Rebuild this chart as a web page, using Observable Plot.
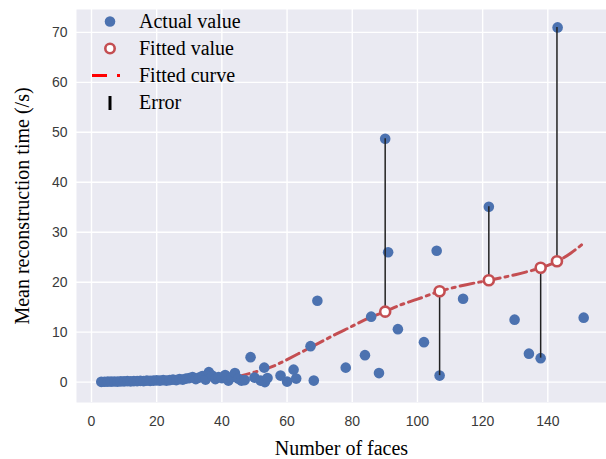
<!DOCTYPE html>
<html>
<head>
<meta charset="utf-8">
<script src="https://cdn.jsdelivr.net/npm/d3@7"></script>
<script src="https://cdn.jsdelivr.net/npm/@observablehq/plot@0.6"></script>
<style>
  html, body { margin: 0; padding: 0; background: #fff; }
  #wrap { position: relative; width: 606px; height: 459px; }
  #chart svg { display: block; }
  #chart g[aria-label="x-axis tick label"] text, #chart g[aria-label="y-axis tick label"] text { fill: #3a3a3a; }
  #chart g[aria-label="x-axis label"] text, #chart g[aria-label="y-axis label"] text {
    font-family: "Liberation Serif", "Times New Roman", serif; font-size: 20px; fill: #000;
  }
  #legend { position: absolute; left: 88px; top: 8px; font-family: "Liberation Serif", "Times New Roman", serif; font-size: 20px; color: #000; }
  .row { display: flex; align-items: center; height: 27px; }
  .row svg { width: 44px; height: 27px; flex: none; }
  .row span { margin-left: 7px; }
</style>
</head>
<body>
<div id="wrap">
  <div id="chart"></div>
  <div id="legend">
    <div class="row"><svg><circle cx="22" cy="13.5" r="5.3" fill="#4C72B0"/></svg><span>Actual value</span></div>
    <div class="row"><svg><circle cx="22" cy="13.5" r="4.7" fill="#fff" stroke="#C44E52" stroke-width="2.6"/></svg><span>Fitted value</span></div>
    <div class="row"><svg><line x1="4" x2="40" y1="13.5" y2="13.5" stroke="#ff0000" stroke-width="3" stroke-dasharray="15,10,3,10"/></svg><span>Fitted curve</span></div>
    <div class="row"><svg><line x1="22" x2="22" y1="7" y2="21" stroke="#000" stroke-width="3"/></svg><span>Error</span></div>
  </div>
</div>
<script>
// Actual values (number of faces, mean reconstruction time)
const actualX = [3,4,5,6,7,8,9,10,11,12,13,14,15,16,17,18,19,20,21,22,23,24,25,26,27,28,29,30,
  31,32,33,34,35,36,37,38,39,40,41,42,43,44,45,46,47,48.8,50,51.9,53,53.2,54,58,60,62,62.8,
  67.2,68.2,69.3,78,83.9,85.8,88.2,90.1,91,94,102,105.9,106.8,114,121.9,129.8,134.2,137.8,143,151];
const actualY = [0.05,0.08,0.1,0.1,0.12,0.1,0.15,0.15,0.2,0.15,0.2,0.2,0.25,0.2,0.3,0.25,0.3,0.35,0.3,0.4,0.3,0.4,0.5,0.4,0.6,0.5,0.7,0.8,
  1.0,0.6,0.9,1.2,0.5,2.0,1.3,0.6,1.0,0.8,1.4,0.3,1.0,1.8,0.7,0.3,0.4,5.0,0.9,0.3,2.9,0.0,0.8,1.3,0.1,2.5,0.7,
  7.2,0.3,16.3,2.9,5.4,13.1,1.8,48.7,26.0,10.6,8.0,26.3,1.3,16.7,35.1,12.5,5.7,4.8,71.0,12.9];

// Fitted values and the actual values they are compared with
const fittedX = [90.1, 106.8, 121.9, 137.8, 142.8];
const fittedY = [14.1, 18.2, 20.4, 22.9, 24.2];
const errorActualY = [48.7, 1.3, 35.1, 4.8, 71.0];

// Fitted curve
const curveX = [3, 10, 20, 30, 40, 45, 50, 55, 60, 65, 70, 75, 80, 85, 90, 95, 100, 107, 115, 122, 130, 138, 143, 147, 151];
const curveY = [-0.5, 0.4, 0.5, 0.4, 0.6, 1.1, 2.0, 3.0, 4.5, 6.2, 7.9, 9.6, 11.2, 12.8, 14.1, 15.5, 16.6, 18.2, 19.5, 20.4, 21.5, 22.9, 24.2, 25.8, 27.8];

const xTicks = [0, 20, 40, 60, 80, 100, 120, 140];
const yTicks = [0, 10, 20, 30, 40, 50, 60, 70];

const actual = actualX.map((x, i) => ({x, y: actualY[i]}));
const fitted = fittedX.map((x, i) => ({x, y: fittedY[i], a: errorActualY[i]}));
const curve = curveX.map((x, i) => ({x, y: curveY[i]}));

const plot = Plot.plot({
  width: 606,
  height: 459,
  marginLeft: 76,
  marginRight: 0,
  marginTop: 9,
  marginBottom: 57,
  style: {fontFamily: "'Liberation Sans', Arial, sans-serif", fontSize: "14px", background: "#fff"},
  x: {domain: [-4.6, 158.0]},
  y: {domain: [-4.08, 74.58]},
  marks: [
    Plot.frame({fill: "#EAEAF2", stroke: null}),
    Plot.gridX(xTicks, {stroke: "#fff", strokeOpacity: 1, strokeWidth: 1.4}),
    Plot.gridY(yTicks, {stroke: "#fff", strokeOpacity: 1, strokeWidth: 1.4}),
    Plot.axisX(xTicks, {tickSize: 0, tickPadding: 14, label: "Number of faces", labelAnchor: "center", labelOffset: 52, labelArrow: "none"}),
    Plot.axisY(yTicks, {tickSize: 0, tickPadding: 9, label: "Mean reconstruction time (/s)", labelAnchor: "center", labelOffset: 62, labelArrow: "none"}),
    Plot.line(curve, {x: "x", y: "y", curve: "natural", stroke: "#C44E52", strokeWidth: 3, strokeDasharray: "14,5,3,5"}),
    Plot.dot(actual, {x: "x", y: "y", r: 5.3, fill: "#4C72B0", stroke: "none"}),
    Plot.ruleX(fitted, {x: "x", y1: "a", y2: "y", stroke: "#222", strokeWidth: 1.5}),
    Plot.dot(fitted, {x: "x", y: "y", r: 5, fill: "#fff", stroke: "#C44E52", strokeWidth: 2.6})
  ]
});
document.getElementById("chart").appendChild(plot);
</script>
</body>
</html>
